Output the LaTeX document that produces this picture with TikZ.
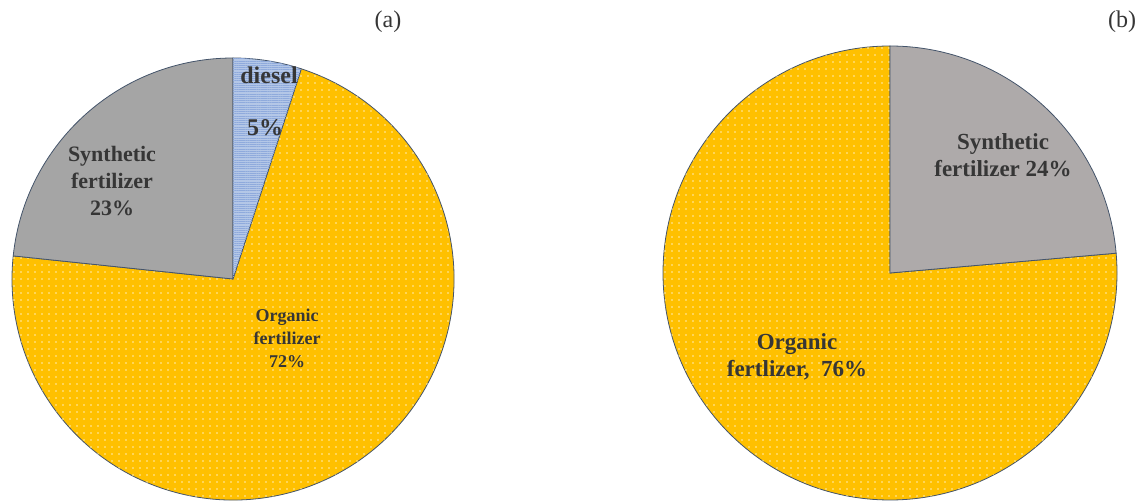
\documentclass[tikz,border=0pt]{standalone}
\usepackage{fontspec}
\setmainfont{Liberation Serif}
\usetikzlibrary{patterns.meta}
\definecolor{pieline}{HTML}{44546A}
\definecolor{piegold}{HTML}{FFC000}
\definecolor{piegreya}{HTML}{A5A5A5}
\definecolor{piegreyb}{HTML}{AEAAAA}
\definecolor{pieblue}{HTML}{B4C7E7}
\definecolor{piestripe}{HTML}{8FAADC}
\definecolor{pieink}{HTML}{363636}

\begin{document}
\begin{tikzpicture}[
  x=1pt,
  y=1pt,
  every node/.style={pieink, inner sep=0pt},
  slice/.style={draw=pieline, line width=0.8pt, line join=round},
  organic/.style={fill=piegold,
                  postaction={pattern={Dots[radius=0.9pt, distance=7pt]},
                              pattern color=white!70!piegold}},
  synthA/.style={fill=piegreya},
  synthB/.style={fill=piegreyb},
  diesel/.style={fill=pieblue,
                 postaction={pattern={Lines[angle=0, distance=2.2pt,
                                            line width=0.5pt]},
                             pattern color=piestripe}},
  slicetext/.style={font=\bfseries\fontsize{22}{27}\selectfont, align=center},
  paneltag/.style={font=\fontsize{24}{26}\selectfont}
]
  \useasboundingbox (0,0) rectangle (1143,503);

  % ---- centres of the two pies ----
  \coordinate (ca) at (233,224);
  \coordinate (cb) at (890,230);

  % ---- pie (a) ----
  \draw[slice, organic] (ca) -- ++(72:221)
    arc[start angle=72, end angle=-186, radius=221] -- cycle;
  \draw[slice, synthA] (ca) -- ++(90:221)
    arc[start angle=90, end angle=174, radius=221] -- cycle;
  \draw[slice, diesel] (ca) -- ++(72:221)
    arc[start angle=72, end angle=90, radius=221] -- cycle;

  % ---- pie (b) ----
  \draw[slice, organic] (cb) -- ++(90:227)
    arc[start angle=90, end angle=365, radius=227] -- cycle;
  \draw[slice, synthB] (cb) -- ++(5:227)
    arc[start angle=5, end angle=90, radius=227] -- cycle;

  % ---- slice labels of (a) ----
  \node[slicetext, font=\bfseries\fontsize{24}{27}\selectfont] (adiesel) at (269,428) {diesel};
  \node[slicetext, font=\bfseries\fontsize{24}{27}\selectfont] (adieselpct) at (265,375) {5\%};
  \node[slicetext] (asynth) at (112,322) {Synthetic\\fertilizer\\23\%};
  \node[slicetext, font=\bfseries\fontsize{18}{23}\selectfont] (aorganic) at (287,165)
    {Organic\\fertilizer\\72\%};

  % ---- slice labels of (b) ----
  \node[slicetext, font=\bfseries\fontsize{23}{27}\selectfont] (bsynth) at (1003,348)
    {Synthetic\\fertilizer 24\%};
  \node[slicetext, font=\bfseries\fontsize{23}{27}\selectfont] (borganic) at (797,146)
    {Organic\\fertlizer,~~76\%};

  % ---- panel tags ----
  \node[paneltag] (taga) at (388,481) {(a)};
  \node[paneltag] (tagb) at (1122,481) {(b)};
\end{tikzpicture}
\end{document}
